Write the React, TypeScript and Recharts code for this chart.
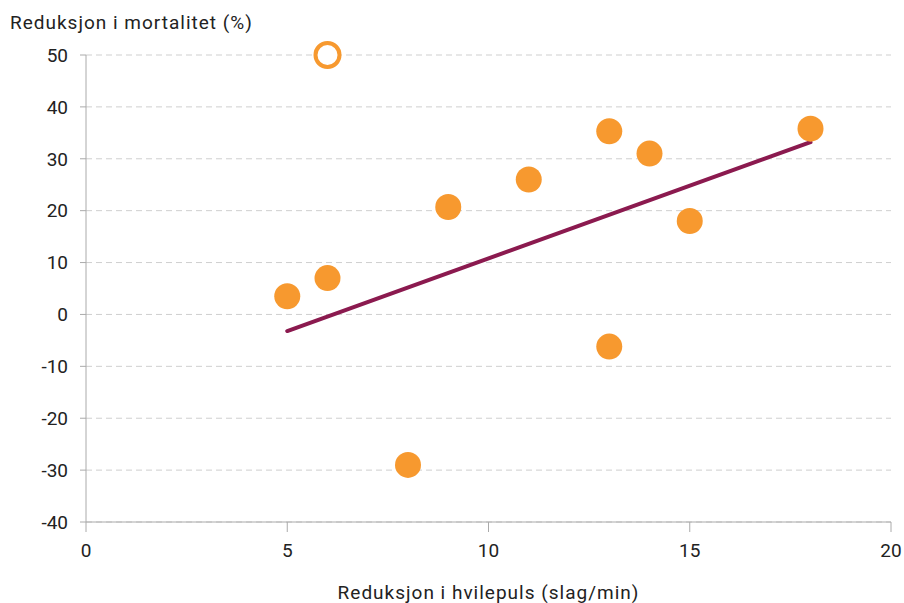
import React from 'react';
import { ScatterChart, Scatter, XAxis, YAxis, CartesianGrid } from 'recharts';

const studyX = [5, 6, 8, 9, 11, 13, 13, 14, 15, 18];
const studyY = [3.5, 7, -29, 20.7, 26, 35.3, -6.2, 31, 18, 35.8];
const outlierX = [6];
const outlierY = [50];
const trendX = [5, 18];
const trendY = [-3.2, 33.2];
const xTicks = [0, 5, 10, 15, 20];
const yTicks = [-40, -30, -20, -10, 0, 10, 20, 30, 40, 50];

const studies = studyX.map((x, i) => ({ x, y: studyY[i] }));
const outliers = outlierX.map((x, i) => ({ x, y: outlierY[i] }));
const trend = trendX.map((x, i) => ({ x, y: trendY[i] }));

const FONT = 'Roboto, "DejaVu Sans", sans-serif';
const FS = 19;

const FilledDot = (p: any) => <circle cx={p.cx} cy={p.cy} r={13} fill="#F7992F" />;
const HollowDot = (p: any) => (
  <circle cx={p.cx} cy={p.cy} r={12} fill="#fff" stroke="#F7992F" strokeWidth={4} />
);

export default function App() {
  return (
    <div style={{ position: 'absolute', left: 0, top: 0, width: 904, height: 603, background: '#fff', fontFamily: FONT }}>
      <div style={{ position: 'absolute', left: 10, top: 10, fontSize: FS, color: '#222', fontFamily: FONT, lineHeight: '26px', letterSpacing: '1px' }}>
        Reduksjon i mortalitet (%)
      </div>
      <ScatterChart width={904} height={603} margin={{ top: 55, right: 13, bottom: 0, left: 0 }}>
        <CartesianGrid vertical={false} stroke="#cfcfcf" strokeDasharray="6 4" />
        <XAxis
          type="number"
          dataKey="x"
          domain={[0, 20]}
          ticks={xTicks}
          height={81}
          tickSize={10}
          tickMargin={12}
          stroke="#aaa"
          tick={{ fill: '#222', fontSize: FS, fontFamily: FONT }}
          label={{ value: 'Reduksjon i hvilepuls (slag/min)', position: 'insideBottom', offset: 4, fill: '#222', fontSize: FS, fontFamily: FONT, letterSpacing: 1 } as any}
        />
        <YAxis
          type="number"
          dataKey="y"
          domain={[-40, 50]}
          ticks={yTicks}
          width={86}
          tickSize={6}
          tickMargin={12}
          stroke="#aaa"
          tick={{ fill: '#222', fontSize: FS, fontFamily: FONT }}
        />
        <Scatter data={trend} line={{ stroke: '#8B1A4F', strokeWidth: 4, strokeLinecap: 'round' } as any} shape={() => <g />} isAnimationActive={false} />
        <Scatter data={studies} shape={FilledDot} isAnimationActive={false} />
        <Scatter data={outliers} shape={HollowDot} isAnimationActive={false} />
      </ScatterChart>
    </div>
  );
}
